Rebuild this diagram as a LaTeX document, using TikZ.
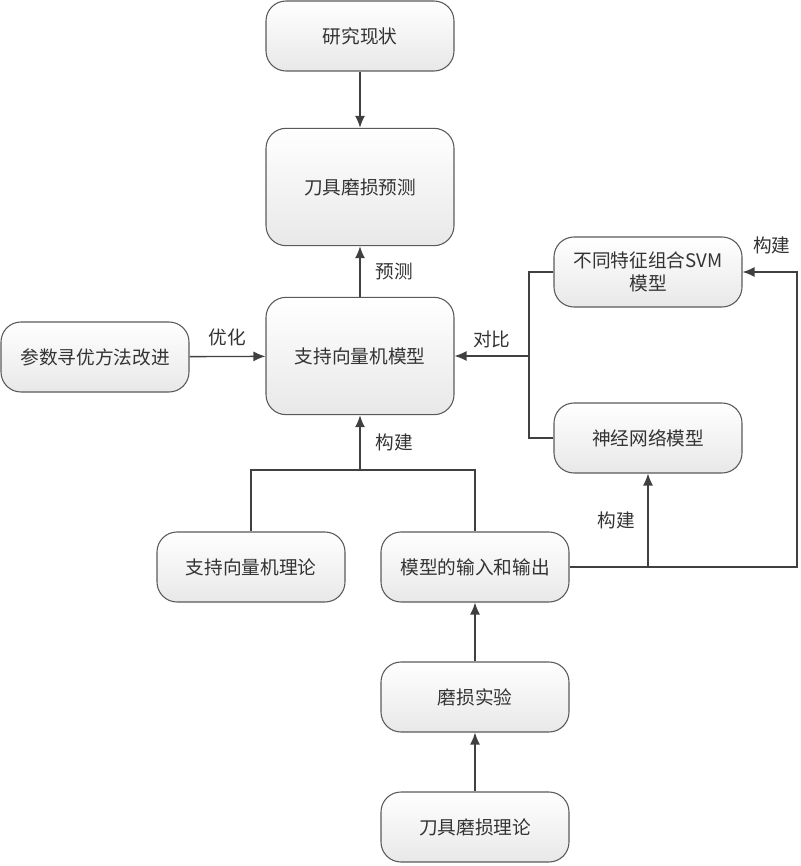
\documentclass[tikz,border=0pt]{standalone}
\usepackage{fontspec}
\setmainfont{Noto Sans CJK SC}
\usepackage{tikz}
\usetikzlibrary{shapes.geometric, arrows.meta}
\definecolor{linegray}{HTML}{404040}
\definecolor{boxgray}{HTML}{5A5A5A}
\definecolor{textgray}{HTML}{333333}

\tikzset{
    box/.style={draw=boxgray, line width=0.8pt, rounded corners=15pt,
        top color=white, bottom color=gray!18, text=textgray,
        minimum width=141pt, minimum height=52.5pt, inner sep=2pt,
        align=center, font=\fontsize{14}{17}\selectfont},
    tall/.style={box, minimum height=88pt},
    lbl/.style={text=textgray, font=\fontsize{14}{17}\selectfont},
    link/.style={draw=linegray, line width=1pt},
    arr/.style={link, -{Latex[length=9pt,width=7.5pt]}}
}

\begin{document}
\begin{tikzpicture}[x=0.75pt, y=-0.75pt]
        \useasboundingbox (0,0) rectangle (800,866);

        \node[box] (status) at (360,36) {研究现状};
        \node[tall] (pred) at (360,187) {刀具磨损预测};
        \node[tall] (svm) at (360,356) {支持向量机模型};
        \node[box] (param) at (95,357) {参数寻优方法改进};
        \node[box] (feat) at (648,272) {不同特征组合SVM\\模型};
        \node[box] (nn) at (648,438) {神经网络模型};
        \node[box] (theory) at (251,567) {支持向量机理论};
        \node[box] (io) at (475,567) {模型的输入和输出};
        \node[box] (exp) at (475,697) {磨损实验};
        \node[box] (wear) at (475,827) {刀具磨损理论};

        \coordinate (cmp) at (529,356);
        \coordinate (jn) at (360,470);
        \coordinate (rt) at (797,567);
        \coordinate (br) at (648,567);

        \draw[arr] (status) -- (pred);
        \draw[arr] (svm) -- (pred) node[midway, right, lbl, xshift=8pt] {预测};
        \draw[arr] (param) -- (svm) node[midway, above, lbl, yshift=4pt] {优化};

        \draw[link] (feat.west) -| (cmp) |- (nn.west);
        \draw[arr] (cmp) -- (svm.east) node[midway, above, lbl, yshift=2pt] {对比};

        \draw[link] (theory.north) |- (jn) -| (io.north);
        \draw[arr] (jn) -- (svm) node[midway, right, lbl, xshift=8pt] {构建};

        \draw[arr] (io.east) -- (rt) |- (feat.east)
            node[pos=0.5, anchor=south east, lbl, xshift=-1pt, yshift=10pt] {构建};
        \draw[arr] (br) -- (nn) node[midway, left, lbl, xshift=-6pt] {构建};

        \draw[arr] (exp) -- (io);
        \draw[arr] (wear) -- (exp);
    \end{tikzpicture}
\end{document}
